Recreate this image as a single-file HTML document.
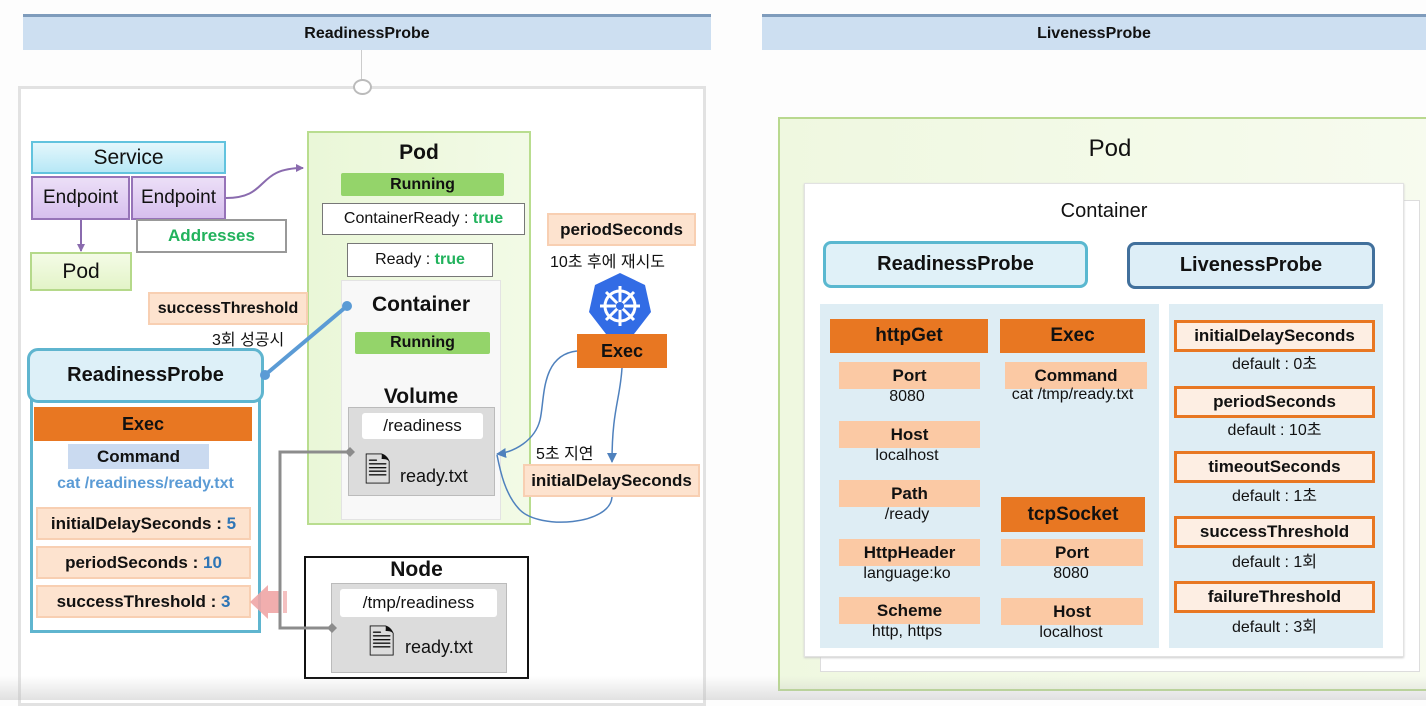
<!DOCTYPE html>
<html><head><meta charset="utf-8"><style>
*{box-sizing:border-box;margin:0;padding:0}
body{width:1426px;height:700px;background:#fdfdfd;position:relative;overflow:hidden;font-family:"Liberation Sans","Noto Sans CJK KR",sans-serif;color:#111}
.a{position:absolute;display:flex;align-items:center;justify-content:center;text-align:center;white-space:nowrap}
.b{font-weight:bold}
.lab{background:#fde3cf;border:2px solid #f8cfb2}
.org{background:#e87722;font-weight:bold;color:#111}
.pch{background:#fbc9a4;font-weight:bold;font-size:17px}
.t{position:absolute;white-space:nowrap;font-size:16px;text-align:center}
.rb{background:#fdeee3;border:3px solid #e87722;font-weight:bold;font-size:17px}
</style></head><body>
<div class="a b" style="left:23px;top:14px;width:688px;height:36px;background:#cddff1;border-top:3px solid #7f9cbc;font-size:16px">ReadinessProbe</div>
<div class="a b" style="left:762px;top:14px;width:664px;height:36px;background:#cddff1;border-top:3px solid #7f9cbc;font-size:16px">LivenessProbe</div>
<div style="position:absolute;left:361px;top:50px;width:1px;height:30px;background:#ccc"></div>
<div style="position:absolute;left:18px;top:86px;width:688px;height:620px;border:3px solid #e2e2e2;background:#fff"></div>
<div style="position:absolute;left:353px;top:79px;width:19px;height:16px;border:2px solid #bbb;border-radius:50%;background:#fff"></div>

<div class="a" style="left:31px;top:141px;width:195px;height:33px;background:linear-gradient(#e4f7fc,#b7e8f6);border:2px solid #62c3de;font-size:21px">Service</div>
<div class="a" style="left:31px;top:176px;width:99px;height:44px;background:linear-gradient(#ecdff7,#d7bfee);border:2px solid #9673b8;font-size:19px">Endpoint</div>
<div class="a" style="left:131px;top:176px;width:95px;height:44px;background:linear-gradient(#ecdff7,#d7bfee);border:2px solid #9673b8;font-size:19px">Endpoint</div>
<div class="a b" style="left:136px;top:219px;width:151px;height:34px;background:#fff;border:2px solid #999;color:#21b25c;font-size:17px">Addresses</div>
<div class="a" style="left:30px;top:252px;width:102px;height:39px;background:linear-gradient(#f4fbe6,#e3f4c8);border:2px solid #b5d98a;font-size:21px">Pod</div>

<div style="position:absolute;left:307px;top:131px;width:224px;height:394px;background:linear-gradient(90deg,#eaf7d8,#f2fae6);border:2px solid #b9dd8f"></div>
<div class="a b" style="left:307px;top:140px;width:224px;height:26px;font-size:21px">Pod</div>
<div class="a b" style="left:341px;top:173px;width:163px;height:23px;background:#94d46a;border-radius:2px;font-size:16px">Running</div>
<div class="a" style="left:322px;top:203px;width:203px;height:32px;background:#fff;border:1px solid #777;font-size:16px">ContainerReady :&nbsp;<b style="color:#21b25c">true</b></div>
<div class="a" style="left:347px;top:243px;width:146px;height:34px;background:#fff;border:1px solid #777;font-size:16px">Ready :&nbsp;<b style="color:#21b25c">true</b></div>
<div style="position:absolute;left:341px;top:280px;width:160px;height:240px;background:#f8f8f8;border:1px solid #e3e3e3"></div>
<div class="a b" style="left:341px;top:292px;width:160px;height:26px;font-size:21px">Container</div>
<div class="a b" style="left:355px;top:332px;width:135px;height:22px;background:#94d46a;border-radius:2px;font-size:16px">Running</div>
<div class="a b" style="left:341px;top:384px;width:160px;height:26px;font-size:21px">Volume</div>
<div style="position:absolute;left:348px;top:407px;width:147px;height:89px;background:#dcdcdc;border:1px solid #bbb"></div>
<div class="a" style="left:362px;top:413px;width:121px;height:26px;background:#fff;border-radius:3px;font-size:17px">/readiness</div>
<div class="t" style="left:364px;top:454px;font-size:34px;line-height:1">&#128462;</div>
<div class="t" style="left:400px;top:466px;font-size:18px">ready.txt</div>

<div style="position:absolute;left:304px;top:556px;width:225px;height:123px;background:#fff;border:2px solid #111"></div>
<div class="a b" style="left:304px;top:557px;width:225px;height:26px;font-size:21px">Node</div>
<div style="position:absolute;left:331px;top:583px;width:176px;height:90px;background:#dcdcdc;border:1px solid #bbb"></div>
<div class="a" style="left:340px;top:589px;width:157px;height:28px;background:#fff;border-radius:3px;font-size:17px">/tmp/readiness</div>
<div class="t" style="left:368px;top:626px;font-size:34px;line-height:1">&#128462;</div>
<div class="t" style="left:405px;top:637px;font-size:18px">ready.txt</div>

<div class="a b lab" style="left:148px;top:292px;width:160px;height:33px;font-size:16px">successThreshold</div>
<div class="t" style="left:212px;top:326px;font-size:16px">3회 성공시</div>
<div style="position:absolute;left:30px;top:398px;width:231px;height:235px;border:3px solid #5fb5cf;background:#fff"></div>
<div class="a b" style="left:27px;top:348px;width:237px;height:55px;background:#ddf0f8;border:3px solid #5fb5cf;border-radius:11px;font-size:20px">ReadinessProbe</div>
<div class="a org" style="left:34px;top:407px;width:218px;height:34px;font-size:18px">Exec</div>
<div class="a b" style="left:68px;top:444px;width:141px;height:25px;background:#cadaf0;font-size:17px">Command</div>
<div class="a b" style="left:30px;top:473px;width:231px;height:22px;color:#5b9bd5;font-size:16px">cat /readiness/ready.txt</div>
<div class="a b lab" style="left:36px;top:507px;width:215px;height:33px;font-size:17px">initialDelaySeconds :&nbsp;<span style="color:#2e75b6">5</span></div>
<div class="a b lab" style="left:36px;top:546px;width:215px;height:33px;font-size:17px">periodSeconds :&nbsp;<span style="color:#2e75b6">10</span></div>
<div class="a b lab" style="left:36px;top:585px;width:215px;height:33px;font-size:17px">successThreshold :&nbsp;<span style="color:#2e75b6">3</span></div>

<div class="a b lab" style="left:547px;top:213px;width:149px;height:33px;font-size:17px">periodSeconds</div>
<div class="t" style="left:550px;top:248px;font-size:16px">10초 후에 재시도</div>
<div class="a org" style="left:577px;top:334px;width:90px;height:34px;font-size:18px">Exec</div>
<div class="a b lab" style="left:523px;top:464px;width:177px;height:33px;font-size:17px">initialDelaySeconds</div>
<div class="t" style="left:536px;top:440px;font-size:16px">5초 지연</div>

<svg style="position:absolute;left:0;top:0" width="1426" height="700">
<defs>
<marker id="mp" markerWidth="8" markerHeight="8" refX="7" refY="4" orient="auto" markerUnits="userSpaceOnUse"><path d="M0,0L8,4L0,8z" fill="#8a6bae"/></marker>
<marker id="mb" markerWidth="10" markerHeight="10" refX="9" refY="5" orient="auto" markerUnits="userSpaceOnUse"><path d="M0,0L10,5L0,10z" fill="#4f81bd"/></marker>
</defs>
<path d="M226,198 C270,198 255,168 303,168" stroke="#8a6bae" stroke-width="2" fill="none" marker-end="url(#mp)"/>
<path d="M81,220 L81,251" stroke="#8a6bae" stroke-width="2" fill="none" marker-end="url(#mp)"/>
<line x1="347" y1="306" x2="265" y2="375" stroke="#5b9bd5" stroke-width="4"/>
<circle cx="347" cy="306" r="5" fill="#5b9bd5"/><circle cx="265" cy="375" r="5" fill="#5b9bd5"/>
<path d="M250,602 L268,585 L268,619 Z" fill="#f0a5a5" opacity="0.9"/><rect x="268" y="591" width="12" height="22" fill="#f0a5a5" opacity="0.9"/><rect x="283" y="591" width="4" height="22" fill="#f0a5a5" opacity="0.7"/>
<polyline points="350,452 280,452 280,628 332,628" stroke="#8c8c8c" stroke-width="3" fill="none"/>
<path d="M345,452 l5,-5 l5,5 l-5,5z" fill="#8c8c8c"/><path d="M327,628 l5,-5 l5,5 l-5,5z" fill="#8c8c8c"/>
<polygon points="620,273 645,285 651,312 634,334 606,334 589,312 595,285" fill="#326ce5"/>
<circle cx="620" cy="306" r="15" fill="none" stroke="#fff" stroke-width="3"/>
<g stroke="#fff" stroke-width="3"><line x1="620" y1="286" x2="620" y2="326"/><line x1="600" y1="306" x2="640" y2="306"/><line x1="606" y1="292" x2="634" y2="320"/><line x1="634" y1="292" x2="606" y2="320"/></g>
<circle cx="620" cy="306" r="4" fill="#326ce5"/>
<path d="M577,351 C540,355 545,400 540,420 C535,440 515,452 497,454" stroke="#4f81bd" stroke-width="1.5" fill="none" marker-end="url(#mb)"/>
<path d="M622,368 C620,400 612,410 612,462" stroke="#4f81bd" stroke-width="1.5" fill="none" marker-end="url(#mb)"/>
<path d="M612,497 C610,525 540,530 520,510 C505,495 500,470 497,455" stroke="#4f81bd" stroke-width="1.5" fill="none"/>
</svg>

<div style="position:absolute;left:778px;top:117px;width:660px;height:574px;background:linear-gradient(90deg,#eff8e0,#f7fbef);border:2px solid #b9d98f"></div>
<div class="a" style="left:778px;top:134px;width:664px;height:30px;font-size:24px">Pod</div>
<div style="position:absolute;left:820px;top:200px;width:600px;height:472px;background:#fff;border:1px solid #ddd"></div>
<div style="position:absolute;left:804px;top:183px;width:600px;height:474px;background:#fff;border:1px solid #e2e2e2;box-shadow:0 1px 2px #ccc"></div>
<div class="a" style="left:804px;top:198px;width:600px;height:26px;font-size:20px">Container</div>
<div class="a b" style="left:823px;top:241px;width:265px;height:47px;background:#e0f1f8;border:3px solid #5ab8d0;border-radius:8px;font-size:20px">ReadinessProbe</div>
<div class="a b" style="left:1127px;top:242px;width:248px;height:47px;background:#ddeef7;border:3px solid #41709c;border-radius:8px;font-size:20px">LivenessProbe</div>
<div style="position:absolute;left:820px;top:304px;width:339px;height:344px;background:#deedf4"></div>
<div style="position:absolute;left:1169px;top:304px;width:214px;height:344px;background:#deedf4"></div>

<div class="a org" style="left:830px;top:319px;width:158px;height:34px;font-size:19px">httpGet</div>
<div class="a org" style="left:1000px;top:319px;width:145px;height:34px;font-size:19px">Exec</div>
<div class="a org" style="left:1001px;top:497px;width:144px;height:35px;font-size:19px">tcpSocket</div>

<div class="a pch" style="left:839px;top:362px;width:141px;height:27px">Port</div><div class="a" style="left:839px;top:386px;width:136px;height:22px;font-size:16px">8080</div>
<div class="a pch" style="left:839px;top:421px;width:141px;height:27px">Host</div><div class="a" style="left:839px;top:445px;width:136px;height:22px;font-size:16px">localhost</div>
<div class="a pch" style="left:839px;top:480px;width:141px;height:27px">Path</div><div class="a" style="left:839px;top:504px;width:136px;height:22px;font-size:16px">/ready</div>
<div class="a pch" style="left:839px;top:539px;width:141px;height:27px">HttpHeader</div><div class="a" style="left:839px;top:563px;width:136px;height:22px;font-size:16px">language:ko</div>
<div class="a pch" style="left:839px;top:597px;width:141px;height:27px">Scheme</div><div class="a" style="left:839px;top:621px;width:136px;height:22px;font-size:16px">http, https</div>

<div class="a pch" style="left:1005px;top:362px;width:142px;height:27px">Command</div><div class="a" style="left:995px;top:384px;width:155px;height:22px;font-size:16px">cat /tmp/ready.txt</div>
<div class="a pch" style="left:1001px;top:539px;width:142px;height:27px">Port</div><div class="a" style="left:1001px;top:563px;width:140px;height:22px;font-size:16px">8080</div>
<div class="a pch" style="left:1001px;top:598px;width:142px;height:27px">Host</div><div class="a" style="left:1001px;top:622px;width:140px;height:22px;font-size:16px">localhost</div>

<div class="a rb" style="left:1174px;top:320px;width:201px;height:32px">initialDelaySeconds</div><div class="a" style="left:1174px;top:351px;width:201px;height:22px;font-size:16px">default : 0초</div>
<div class="a rb" style="left:1174px;top:386px;width:201px;height:32px">periodSeconds</div><div class="a" style="left:1174px;top:417px;width:201px;height:22px;font-size:16px">default : 10초</div>
<div class="a rb" style="left:1174px;top:451px;width:201px;height:32px">timeoutSeconds</div><div class="a" style="left:1174px;top:483px;width:201px;height:22px;font-size:16px">default : 1초</div>
<div class="a rb" style="left:1174px;top:516px;width:201px;height:32px">successThreshold</div><div class="a" style="left:1174px;top:549px;width:201px;height:22px;font-size:16px">default : 1회</div>
<div class="a rb" style="left:1174px;top:581px;width:201px;height:32px">failureThreshold</div><div class="a" style="left:1174px;top:614px;width:201px;height:22px;font-size:16px">default : 3회</div>

<div style="position:absolute;left:0;top:676px;width:1426px;height:24px;background:linear-gradient(rgba(200,200,200,0),rgba(190,190,190,0.45))"></div>
</body></html>
